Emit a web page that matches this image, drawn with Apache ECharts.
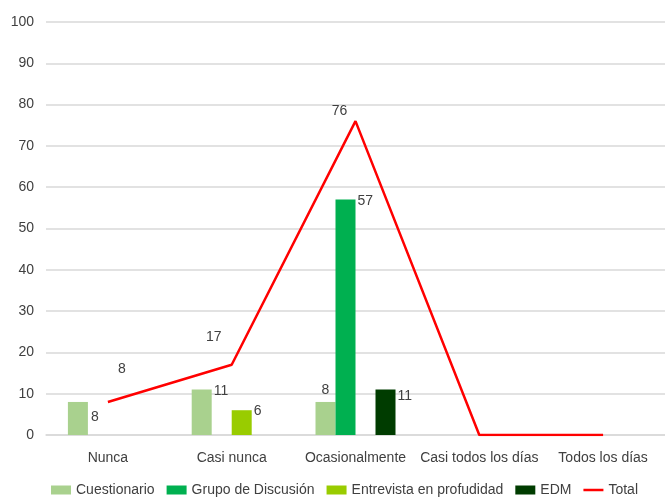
<!DOCTYPE html>
<html><head><meta charset="utf-8">
<script src="https://cdn.jsdelivr.net/npm/echarts@6/dist/echarts.min.js"></script>
<style>html,body{margin:0;padding:0;background:#fff}#c{width:665px;height:497px}</style>
</head><body><div id="c"></div>
<script>
const categories = ['Nunca', 'Casi nunca', 'Ocasionalmente', 'Casi todos los días', 'Todos los días'];
const cuestionario = [8, 11, 8, 0, 0];
const grupoDiscusion = [0, 0, 57, 0, 0];
const entrevista = [0, 6, 0, 0, 0];
const edm = [0, 0, 11, 0, 0];
const total = [8, 17, 76, 0, 0];
const yTicks = [0, 10, 20, 30, 40, 50, 60, 70, 80, 90, 100];

// label placement styles (not data)
const barLabelPos = {
  cuestionario: [[23, 8], [22, -5], 'top', null, null],
  grupo: [null, null, [22, -5], null, null],
  entrevista: [null, [22, -6], null, null, null],
  edm: [null, null, [22, 0], null, null]
};
const lineLabelOffset = [[14, -21], [-18, -16], [-16, 2], null, null];

const font = 'Liberation Sans, Arial, sans-serif';
const txt = '#404040';

function barData(vals, pos) {
  return vals.map((v, i) => {
    const p = pos[i];
    if (!v || !p) return { value: v, label: { show: false } };
    return { value: v, label: { show: true, position: p } };
  });
}
function lineData(vals) {
  return vals.map((v, i) => {
    const o = lineLabelOffset[i];
    if (!v || !o) return { value: v, label: { show: false } };
    return { value: v, label: { show: true, position: 'top', offset: o } };
  });
}
const labelStyle = { color: txt, fontSize: 14, fontFamily: font };

function bar(name, vals, pos, color) {
  return {
    name, type: 'bar', barWidth: 20, barGap: '0%',
    itemStyle: { color, borderRadius: 0 },
    label: labelStyle,
    data: barData(vals, pos)
  };
}

const chart = echarts.init(document.getElementById('c'));
chart.setOption({
  animation: false,
  textStyle: { fontFamily: font },
  grid: { left: 46, right: 0, top: 22, bottom: 62, containLabel: false },
  legend: {
    top: 478, left: 46, itemWidth: 20, itemHeight: 9, itemGap: 12, icon: 'rect',
    textStyle: { color: txt, fontSize: 14, fontFamily: font },
    data: ['Cuestionario', 'Grupo de Discusión', 'Entrevista en profudidad', 'EDM',
      { name: 'Total', icon: 'path://M0,0 L20,0 L20,2.5 L0,2.5 Z', itemStyle: { color: '#ff0000' } }]
  },
  xAxis: {
    type: 'category', data: categories,
    axisLine: { lineStyle: { color: '#d9d9d9', width: 1.5 } },
    axisTick: { show: false },
    axisLabel: { color: txt, fontSize: 14, fontFamily: font, margin: 16, interval: 0 }
  },
  yAxis: {
    type: 'value', min: 0, max: 100, interval: 10,
    axisLine: { show: false }, axisTick: { show: false },
    splitLine: { lineStyle: { color: '#d9d9d9', width: 1.5 } },
    axisLabel: { color: txt, fontSize: 14, fontFamily: font, margin: 12,
      formatter: v => yTicks.includes(v) ? String(v) : '' }
  },
  series: [
    bar('Cuestionario', cuestionario, barLabelPos.cuestionario, '#a9d18e'),
    bar('Grupo de Discusión', grupoDiscusion, barLabelPos.grupo, '#00b050'),
    bar('Entrevista en profudidad', entrevista, barLabelPos.entrevista, '#99cc00'),
    bar('EDM', edm, barLabelPos.edm, '#003c00'),
    {
      name: 'Total', type: 'line', symbol: 'circle', symbolSize: 0.01, showSymbol: true,
      lineStyle: { color: '#ff0000', width: 2.5 }, itemStyle: { color: '#ff0000' },
      label: labelStyle,
      data: lineData(total)
    }
  ]
});
</script></body></html>
